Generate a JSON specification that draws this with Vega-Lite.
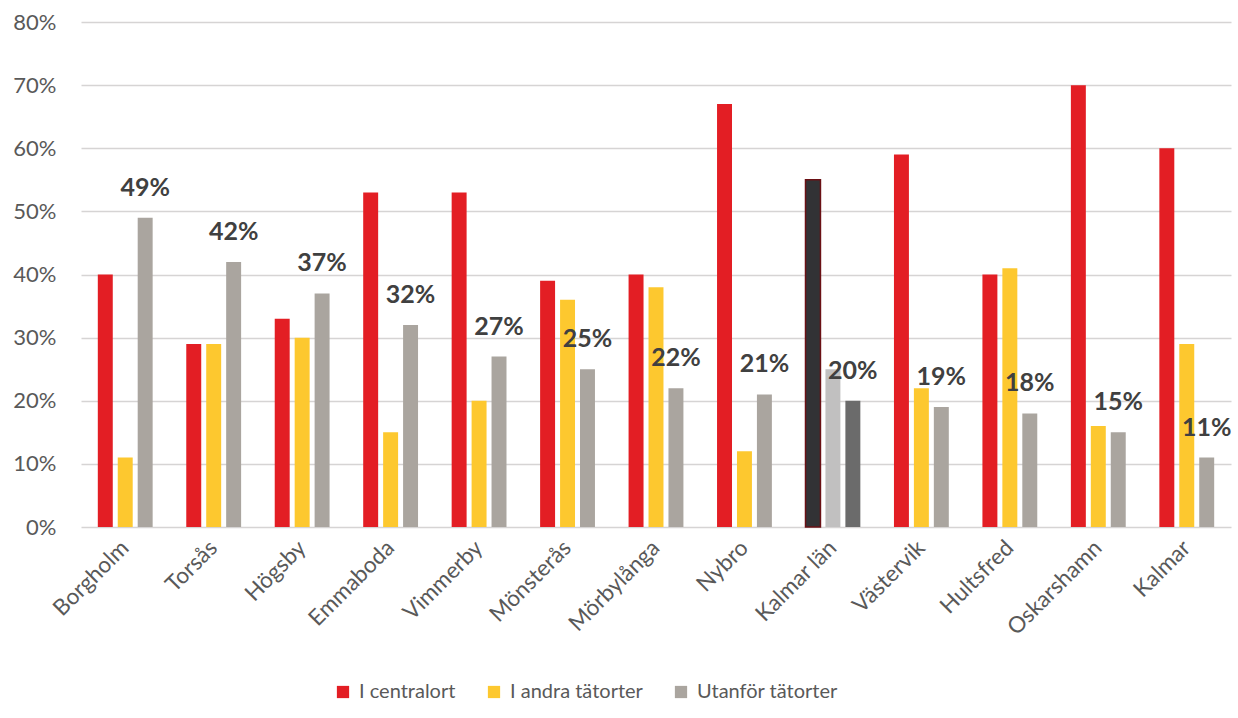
{
  "$schema": "https://vega.github.io/schema/vega-lite/v6.json",
  "width": 1150,
  "height": 505,
  "autosize": "none",
  "padding": {"left": 81, "top": 22, "right": 7, "bottom": 191},
  "background": "white",
  "config": {"view": {"stroke": null}, "font": "Lato"},
  "data": {
    "values": [
      {"kommun": "Borgholm", "serie": "I centralort", "andel": 0.40},
      {"kommun": "Borgholm", "serie": "I andra tätorter", "andel": 0.11},
      {"kommun": "Borgholm", "serie": "Utanför tätorter", "andel": 0.49},
      {"kommun": "Torsås", "serie": "I centralort", "andel": 0.29},
      {"kommun": "Torsås", "serie": "I andra tätorter", "andel": 0.29},
      {"kommun": "Torsås", "serie": "Utanför tätorter", "andel": 0.42},
      {"kommun": "Högsby", "serie": "I centralort", "andel": 0.33},
      {"kommun": "Högsby", "serie": "I andra tätorter", "andel": 0.30},
      {"kommun": "Högsby", "serie": "Utanför tätorter", "andel": 0.37},
      {"kommun": "Emmaboda", "serie": "I centralort", "andel": 0.53},
      {"kommun": "Emmaboda", "serie": "I andra tätorter", "andel": 0.15},
      {"kommun": "Emmaboda", "serie": "Utanför tätorter", "andel": 0.32},
      {"kommun": "Vimmerby", "serie": "I centralort", "andel": 0.53},
      {"kommun": "Vimmerby", "serie": "I andra tätorter", "andel": 0.20},
      {"kommun": "Vimmerby", "serie": "Utanför tätorter", "andel": 0.27},
      {"kommun": "Mönsterås", "serie": "I centralort", "andel": 0.39},
      {"kommun": "Mönsterås", "serie": "I andra tätorter", "andel": 0.36},
      {"kommun": "Mönsterås", "serie": "Utanför tätorter", "andel": 0.25},
      {"kommun": "Mörbylånga", "serie": "I centralort", "andel": 0.40},
      {"kommun": "Mörbylånga", "serie": "I andra tätorter", "andel": 0.38},
      {"kommun": "Mörbylånga", "serie": "Utanför tätorter", "andel": 0.22},
      {"kommun": "Nybro", "serie": "I centralort", "andel": 0.67},
      {"kommun": "Nybro", "serie": "I andra tätorter", "andel": 0.12},
      {"kommun": "Nybro", "serie": "Utanför tätorter", "andel": 0.21},
      {"kommun": "Kalmar län", "serie": "I centralort", "andel": 0.55},
      {"kommun": "Kalmar län", "serie": "I andra tätorter", "andel": 0.25},
      {"kommun": "Kalmar län", "serie": "Utanför tätorter", "andel": 0.20},
      {"kommun": "Västervik", "serie": "I centralort", "andel": 0.59},
      {"kommun": "Västervik", "serie": "I andra tätorter", "andel": 0.22},
      {"kommun": "Västervik", "serie": "Utanför tätorter", "andel": 0.19},
      {"kommun": "Hultsfred", "serie": "I centralort", "andel": 0.40},
      {"kommun": "Hultsfred", "serie": "I andra tätorter", "andel": 0.41},
      {"kommun": "Hultsfred", "serie": "Utanför tätorter", "andel": 0.18},
      {"kommun": "Oskarshamn", "serie": "I centralort", "andel": 0.70},
      {"kommun": "Oskarshamn", "serie": "I andra tätorter", "andel": 0.16},
      {"kommun": "Oskarshamn", "serie": "Utanför tätorter", "andel": 0.15},
      {"kommun": "Kalmar", "serie": "I centralort", "andel": 0.60},
      {"kommun": "Kalmar", "serie": "I andra tätorter", "andel": 0.29},
      {"kommun": "Kalmar", "serie": "Utanför tätorter", "andel": 0.11}
    ]
  },
  "encoding": {
    "x": {
      "field": "kommun",
      "type": "nominal",
      "sort": ["Borgholm", "Torsås", "Högsby", "Emmaboda", "Vimmerby", "Mönsterås", "Mörbylånga", "Nybro", "Kalmar län", "Västervik", "Hultsfred", "Oskarshamn", "Kalmar"],
      "scale": {"paddingInner": 0.38, "paddingOuter": 0.19},
      "axis": {
        "title": null,
        "labelAngle": -45,
        "labelAlign": "right",
        "labelBaseline": "middle",
        "labelFontSize": 22.5,
        "labelColor": "#595959",
        "labelPadding": 17,
        "domain": false,
        "ticks": false
      }
    },
    "xOffset": {
      "field": "serie",
      "type": "nominal",
      "sort": ["I centralort", "I andra tätorter", "Utanför tätorter"],
      "scale": {"domain": ["I centralort", "I andra tätorter", "Utanför tätorter"], "paddingInner": 0.25, "paddingOuter": 0}
    },
    "y": {
      "field": "andel",
      "type": "quantitative",
      "scale": {"domain": [0, 0.8], "nice": false},
      "axis": {
        "title": null,
        "values": [0, 0.1, 0.2, 0.3, 0.4, 0.5, 0.6, 0.7, 0.8],
        "format": ".0%",
        "labelFontSize": 22,
        "labelColor": "#595959",
        "labelPadding": 25,
        "gridColor": "#d6d4d4",
        "gridWidth": 1.5,
        "domain": false,
        "ticks": false
      }
    }
  },
  "layer": [
    {
      "transform": [{"filter": "datum.kommun !== 'Kalmar län'"}],
      "mark": {"type": "bar"},
      "encoding": {
        "color": {
          "field": "serie",
          "type": "nominal",
          "scale": {"domain": ["I centralort", "I andra tätorter", "Utanför tätorter"], "range": ["#e31e24", "#fdc82f", "#aaa59f"]},
          "legend": {
            "title": null,
            "orient": "none",
            "direction": "horizontal",
            "legendX": 252,
            "legendY": 660,
            "symbolType": "square",
            "symbolSize": 150,
            "symbolStrokeWidth": 0,
            "labelFontSize": 20,
            "labelColor": "#595959",
            "labelOffset": 6,
            "columnPadding": 28
          }
        }
      }
    },
    {
      "transform": [{"filter": "datum.kommun === 'Kalmar län'"}],
      "mark": {"type": "bar"},
      "encoding": {
        "color": {
          "condition": [
            {"test": "datum.serie === 'I centralort'", "value": "#323235"},
            {"test": "datum.serie === 'I andra tätorter'", "value": "#c1c0c0"}
          ],
          "value": "#6b6b6b"
        },
        "stroke": {
          "condition": {"test": "datum.serie === 'I centralort'", "value": "#6a1014"},
          "value": null
        },
        "strokeWidth": {"value": 1.5}
      }
    },
    {
      "transform": [{"filter": "datum.serie === 'Utanför tätorter'"}],
      "mark": {"type": "text", "baseline": "bottom", "dy": -17, "fontSize": 25, "fontWeight": "bold", "color": "#404040"},
      "encoding": {
        "text": {"field": "andel", "type": "quantitative", "format": ".0%"}
      }
    }
  ]
}
